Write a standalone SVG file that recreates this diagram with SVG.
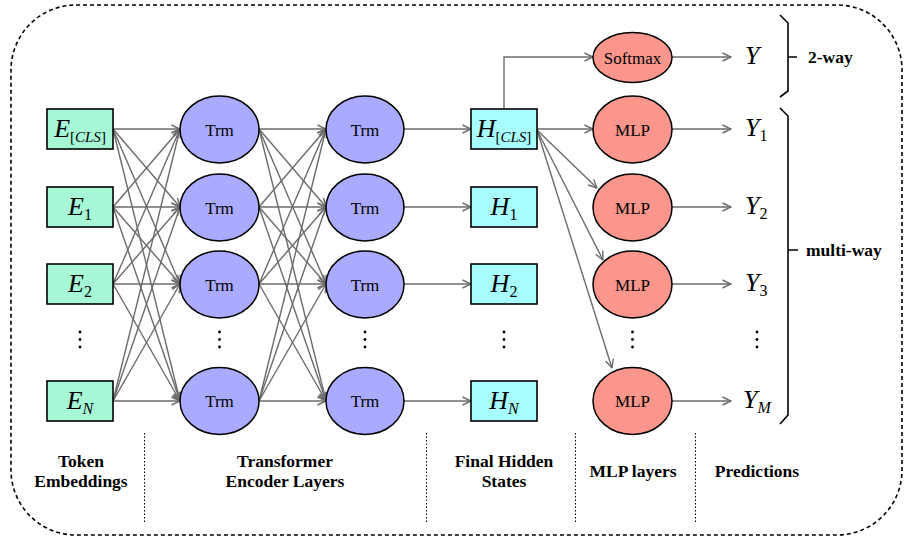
<svg xmlns="http://www.w3.org/2000/svg" width="904" height="538" viewBox="0 0 904 538" font-family="serif">
<defs>
<marker id="ah" viewBox="0 0 10 10" refX="9.5" refY="5" markerWidth="10" markerHeight="10" markerUnits="userSpaceOnUse" orient="auto">
<path d="M1,1 L9.5,5 L1,9" fill="none" stroke="#6b6b6b" stroke-width="1.4"/>
</marker>
</defs>
<rect x="11" y="5" width="891" height="530" rx="65" ry="65" fill="none" stroke="#000" stroke-width="1.6" stroke-dasharray="4 3"/>
<g id="connectors" stroke="#6b6b6b" stroke-width="1.4" fill="none" marker-end="url(#ah)">
<line x1="113" y1="129" x2="180" y2="129"/><line x1="113" y1="129" x2="180" y2="207"/><line x1="113" y1="129" x2="180" y2="284"/><line x1="113" y1="129" x2="180" y2="401"/>
<line x1="113" y1="207" x2="180" y2="129"/><line x1="113" y1="207" x2="180" y2="207"/><line x1="113" y1="207" x2="180" y2="284"/><line x1="113" y1="207" x2="180" y2="401"/>
<line x1="113" y1="284" x2="180" y2="129"/><line x1="113" y1="284" x2="180" y2="207"/><line x1="113" y1="284" x2="180" y2="284"/><line x1="113" y1="284" x2="180" y2="401"/>
<line x1="113" y1="401" x2="180" y2="129"/><line x1="113" y1="401" x2="180" y2="207"/><line x1="113" y1="401" x2="180" y2="284"/><line x1="113" y1="401" x2="180" y2="401"/>
<line x1="259" y1="129" x2="326" y2="129"/><line x1="259" y1="129" x2="326" y2="207"/><line x1="259" y1="129" x2="326" y2="284"/><line x1="259" y1="129" x2="326" y2="401"/>
<line x1="259" y1="207" x2="326" y2="129"/><line x1="259" y1="207" x2="326" y2="207"/><line x1="259" y1="207" x2="326" y2="284"/><line x1="259" y1="207" x2="326" y2="401"/>
<line x1="259" y1="284" x2="326" y2="129"/><line x1="259" y1="284" x2="326" y2="207"/><line x1="259" y1="284" x2="326" y2="284"/><line x1="259" y1="284" x2="326" y2="401"/>
<line x1="259" y1="401" x2="326" y2="129"/><line x1="259" y1="401" x2="326" y2="207"/><line x1="259" y1="401" x2="326" y2="284"/><line x1="259" y1="401" x2="326" y2="401"/>
<line x1="404" y1="129" x2="471" y2="129"/><line x1="404" y1="207" x2="471" y2="207"/><line x1="404" y1="284" x2="471" y2="284"/><line x1="404" y1="401" x2="471" y2="401"/>
<path d="M504,109 V57 H593"/>
<line x1="537" y1="129" x2="593" y2="129"/>
<line x1="537" y1="130" x2="597" y2="188"/>
<line x1="537" y1="130" x2="603" y2="260"/>
<line x1="537" y1="130" x2="612" y2="368"/>
<line x1="672" y1="57" x2="731" y2="57"/><line x1="672" y1="129" x2="731" y2="129"/><line x1="672" y1="207" x2="731" y2="207"/><line x1="672" y1="284" x2="731" y2="284"/><line x1="672" y1="401" x2="731" y2="401"/>
</g>
<g id="embeddings" fill="#a6f8d6" stroke="#000" stroke-width="1.6">
<g id="emb_cls"><rect x="47" y="109" width="66" height="40"/><text stroke="none" fill="#000" font-family="Liberation Serif, serif" font-size="26" text-anchor="middle" x="80" y="137"><tspan font-style="italic">E</tspan><tspan font-size="15" dy="5">[<tspan font-style="italic">CLS</tspan>]</tspan></text></g>
<g id="emb_1"><rect x="47" y="187" width="66" height="40"/><text stroke="none" fill="#000" font-family="Liberation Serif, serif" font-size="26" text-anchor="middle" x="80" y="215"><tspan font-style="italic">E</tspan><tspan font-size="16" dy="5">1</tspan></text></g>
<g id="emb_2"><rect x="47" y="264" width="66" height="40"/><text stroke="none" fill="#000" font-family="Liberation Serif, serif" font-size="26" text-anchor="middle" x="80" y="292"><tspan font-style="italic">E</tspan><tspan font-size="16" dy="5">2</tspan></text></g>
<g id="emb_n"><rect x="47" y="381" width="66" height="40"/><text stroke="none" fill="#000" font-family="Liberation Serif, serif" font-size="26" text-anchor="middle" x="80" y="409"><tspan font-style="italic">E</tspan><tspan font-size="16" font-style="italic" dy="5">N</tspan></text></g>
</g>
<g id="encoders" fill="#aaaaff" stroke="#000" stroke-width="1.5">
<g id="trm1_1"><ellipse cx="219.5" cy="129.5" rx="39.5" ry="33.5"/><text stroke="none" fill="#000" font-family="Liberation Serif, serif" font-size="17" text-anchor="middle" x="219.5" y="135.5">Trm</text></g>
<g id="trm1_2"><ellipse cx="219.5" cy="207.5" rx="39.5" ry="33.5"/><text stroke="none" fill="#000" font-family="Liberation Serif, serif" font-size="17" text-anchor="middle" x="219.5" y="213.5">Trm</text></g>
<g id="trm1_3"><ellipse cx="219.5" cy="284.5" rx="39.5" ry="33.5"/><text stroke="none" fill="#000" font-family="Liberation Serif, serif" font-size="17" text-anchor="middle" x="219.5" y="290.5">Trm</text></g>
<g id="trm1_n"><ellipse cx="219.5" cy="401" rx="39.5" ry="33.5"/><text stroke="none" fill="#000" font-family="Liberation Serif, serif" font-size="17" text-anchor="middle" x="219.5" y="407">Trm</text></g>
<g id="trm2_1"><ellipse cx="365" cy="129.5" rx="39" ry="33.5"/><text stroke="none" fill="#000" font-family="Liberation Serif, serif" font-size="17" text-anchor="middle" x="365" y="135.5">Trm</text></g>
<g id="trm2_2"><ellipse cx="365" cy="207.5" rx="39" ry="33.5"/><text stroke="none" fill="#000" font-family="Liberation Serif, serif" font-size="17" text-anchor="middle" x="365" y="213.5">Trm</text></g>
<g id="trm2_3"><ellipse cx="365" cy="284.5" rx="39" ry="33.5"/><text stroke="none" fill="#000" font-family="Liberation Serif, serif" font-size="17" text-anchor="middle" x="365" y="290.5">Trm</text></g>
<g id="trm2_n"><ellipse cx="365" cy="401" rx="39" ry="33.5"/><text stroke="none" fill="#000" font-family="Liberation Serif, serif" font-size="17" text-anchor="middle" x="365" y="407">Trm</text></g>
</g>
<g id="hidden" fill="#a8feff" stroke="#000" stroke-width="1.6">
<g id="hid_cls"><rect x="471" y="109" width="66" height="40"/><text stroke="none" fill="#000" font-family="Liberation Serif, serif" font-size="26" text-anchor="middle" x="504" y="137"><tspan font-style="italic">H</tspan><tspan font-size="15" dy="5">[<tspan font-style="italic">CLS</tspan>]</tspan></text></g>
<g id="hid_1"><rect x="471" y="187" width="66" height="40"/><text stroke="none" fill="#000" font-family="Liberation Serif, serif" font-size="26" text-anchor="middle" x="504" y="215"><tspan font-style="italic">H</tspan><tspan font-size="16" dy="5">1</tspan></text></g>
<g id="hid_2"><rect x="471" y="264" width="66" height="40"/><text stroke="none" fill="#000" font-family="Liberation Serif, serif" font-size="26" text-anchor="middle" x="504" y="292"><tspan font-style="italic">H</tspan><tspan font-size="16" dy="5">2</tspan></text></g>
<g id="hid_n"><rect x="471" y="381" width="66" height="40"/><text stroke="none" fill="#000" font-family="Liberation Serif, serif" font-size="26" text-anchor="middle" x="504" y="409"><tspan font-style="italic">H</tspan><tspan font-size="16" font-style="italic" dy="5">N</tspan></text></g>
</g>
<g id="heads" fill="#fb968c" stroke="#000" stroke-width="1.5">
<g id="softmax"><ellipse cx="632.5" cy="57.5" rx="39.5" ry="25"/><text stroke="none" fill="#000" font-family="Liberation Serif, serif" font-size="17" text-anchor="middle" x="632.5" y="63.5">Softmax</text></g>
<g id="mlp_1"><ellipse cx="632.5" cy="129.5" rx="39.5" ry="33.5"/><text stroke="none" fill="#000" font-family="Liberation Serif, serif" font-size="17" text-anchor="middle" x="632.5" y="135.5">MLP</text></g>
<g id="mlp_2"><ellipse cx="632.5" cy="207.5" rx="39.5" ry="33.5"/><text stroke="none" fill="#000" font-family="Liberation Serif, serif" font-size="17" text-anchor="middle" x="632.5" y="213.5">MLP</text></g>
<g id="mlp_3"><ellipse cx="632.5" cy="284.5" rx="39.5" ry="33.5"/><text stroke="none" fill="#000" font-family="Liberation Serif, serif" font-size="17" text-anchor="middle" x="632.5" y="290.5">MLP</text></g>
<g id="mlp_m"><ellipse cx="632.5" cy="401" rx="39.5" ry="33.5"/><text stroke="none" fill="#000" font-family="Liberation Serif, serif" font-size="17" text-anchor="middle" x="632.5" y="407">MLP</text></g>
</g>
<g id="y_2way"><text font-family="Liberation Serif, serif" font-size="26" x="745" y="64"><tspan font-style="italic">Y</tspan></text></g>
<g id="y_1"><text font-family="Liberation Serif, serif" font-size="26" x="745" y="136"><tspan font-style="italic">Y</tspan><tspan font-size="16" dy="5">1</tspan></text></g>
<g id="y_2"><text font-family="Liberation Serif, serif" font-size="26" x="745" y="214"><tspan font-style="italic">Y</tspan><tspan font-size="16" dy="5">2</tspan></text></g>
<g id="y_3"><text font-family="Liberation Serif, serif" font-size="26" x="745" y="291"><tspan font-style="italic">Y</tspan><tspan font-size="16" dy="5">3</tspan></text></g>
<g id="y_m"><text font-family="Liberation Serif, serif" font-size="26" x="743" y="408"><tspan font-style="italic">Y</tspan><tspan font-size="16" font-style="italic" dy="5">M</tspan></text></g>
<g id="vdots" fill="#000">
<circle cx="80" cy="332" r="1.4"/><circle cx="80" cy="339.5" r="1.4"/><circle cx="80" cy="347" r="1.4"/>
<circle cx="219.5" cy="332" r="1.4"/><circle cx="219.5" cy="339.5" r="1.4"/><circle cx="219.5" cy="347" r="1.4"/>
<circle cx="365" cy="332" r="1.4"/><circle cx="365" cy="339.5" r="1.4"/><circle cx="365" cy="347" r="1.4"/>
<circle cx="504" cy="332" r="1.4"/><circle cx="504" cy="339.5" r="1.4"/><circle cx="504" cy="347" r="1.4"/>
<circle cx="632.5" cy="332" r="1.4"/><circle cx="632.5" cy="339.5" r="1.4"/><circle cx="632.5" cy="347" r="1.4"/>
<circle cx="757" cy="332" r="1.4"/><circle cx="757" cy="339.5" r="1.4"/><circle cx="757" cy="347" r="1.4"/>
</g>
<g id="brace_2way">
<path fill="none" stroke="#000" stroke-width="1.6" d="M780,15 L788,23 V91 L780,97 M788,57 H797"/>
<text font-family="Liberation Serif, serif" font-size="17.5" font-weight="bold" x="808" y="63">2-way</text>
</g>
<g id="brace_multi">
<path fill="none" stroke="#000" stroke-width="1.6" d="M780,108 L788,116 V415 L780,424 M788,250 H798"/>
<text font-family="Liberation Serif, serif" font-size="17.5" font-weight="bold" x="806" y="256">multi-way</text>
</g>
<g id="separators" stroke="#000" stroke-width="1" stroke-dasharray="1.5 2">
<line x1="144.5" y1="433" x2="144.5" y2="523"/>
<line x1="426.5" y1="433" x2="426.5" y2="523"/>
<line x1="575.5" y1="433" x2="575.5" y2="523"/>
<line x1="695.5" y1="433" x2="695.5" y2="523"/>
</g>
<g id="captions">
<text font-family="Liberation Serif, serif" font-size="17.5" font-weight="bold" text-anchor="middle" x="81" y="467">Token</text>
<text font-family="Liberation Serif, serif" font-size="17.5" font-weight="bold" text-anchor="middle" x="81" y="487">Embeddings</text>
<text font-family="Liberation Serif, serif" font-size="17.5" font-weight="bold" text-anchor="middle" x="285" y="467">Transformer</text>
<text font-family="Liberation Serif, serif" font-size="17.5" font-weight="bold" text-anchor="middle" x="285" y="487">Encoder Layers</text>
<text font-family="Liberation Serif, serif" font-size="17.5" font-weight="bold" text-anchor="middle" x="504" y="467">Final Hidden</text>
<text font-family="Liberation Serif, serif" font-size="17.5" font-weight="bold" text-anchor="middle" x="504" y="487">States</text>
<text font-family="Liberation Serif, serif" font-size="17.5" font-weight="bold" text-anchor="middle" x="633" y="477">MLP layers</text>
<text font-family="Liberation Serif, serif" font-size="17.5" font-weight="bold" text-anchor="middle" x="757" y="477">Predictions</text>
</g>
</svg>
